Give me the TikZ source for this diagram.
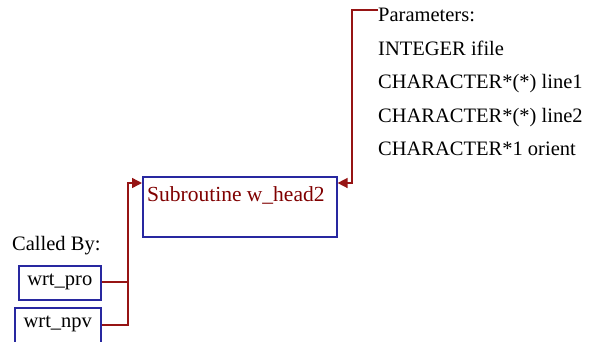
\documentclass[tikz,border=0pt]{standalone}
\usepackage{fontspec}
\setmainfont{Liberation Serif}
\usetikzlibrary{arrows.meta}
\definecolor{boxblue}{RGB}{40,40,160}
\definecolor{linered}{RGB}{150,20,20}
\definecolor{textred}{RGB}{128,0,0}
\begin{document}
\begin{tikzpicture}[x=1pt,y=-1pt,
  every node/.style={font=\fontsize{20.5}{33.5}\selectfont, inner sep=0pt},
  fbox/.style={draw=boxblue, line width=1.6pt, rectangle, anchor=north west},
  conn/.style={draw=linered, line width=1.5pt},
  arr/.style={conn, -{Triangle[length=10pt,width=10pt]}}]
\useasboundingbox (0,0) rectangle (595,341);
\clip (0,0) rectangle (595,341);
% main box
\node[fbox, minimum width=194pt, minimum height=60pt] (main) at (142,176) {};
\node[anchor=west, text=textred, font=\fontsize{21.5}{33.5}\selectfont] (mainlbl) at (147,195) {Subroutine w\_head2};
% callers
\node[anchor=west] (calledby) at (12,246) {Called By:};
\node[fbox, minimum width=82pt, minimum height=34pt] (pro) at (18,265) {};
\node (protxt) at ([yshift=1pt]pro.center) {wrt\_pro};
\node[fbox, minimum width=86pt, minimum height=40pt] (npv) at (14,307) {};
\node (npvtxt) at ([yshift=1pt]npv.center |- 0,325) {wrt\_npv};
\coordinate (jn) at (128,183);
\coordinate (mainin) at (main.west |- jn);
\draw[conn] (pro.east |- 0,282) -- (jn |- 0,282);
\draw[arr] (npv.east |- 0,325) -| (jn) -- (mainin);
% parameters
\node[anchor=north west, align=left] (params) at (378,8)
  {Parameters:\\INTEGER ifile\\CHARACTER*(*) line1\\CHARACTER*(*) line2\\CHARACTER*1 orient};
\coordinate (pstart) at (params.west |- 0,10);
\coordinate (pturn) at (352,10);
\draw[arr] (pstart) -- (pturn) |- (main.east |- jn);
\end{tikzpicture}
\end{document}
